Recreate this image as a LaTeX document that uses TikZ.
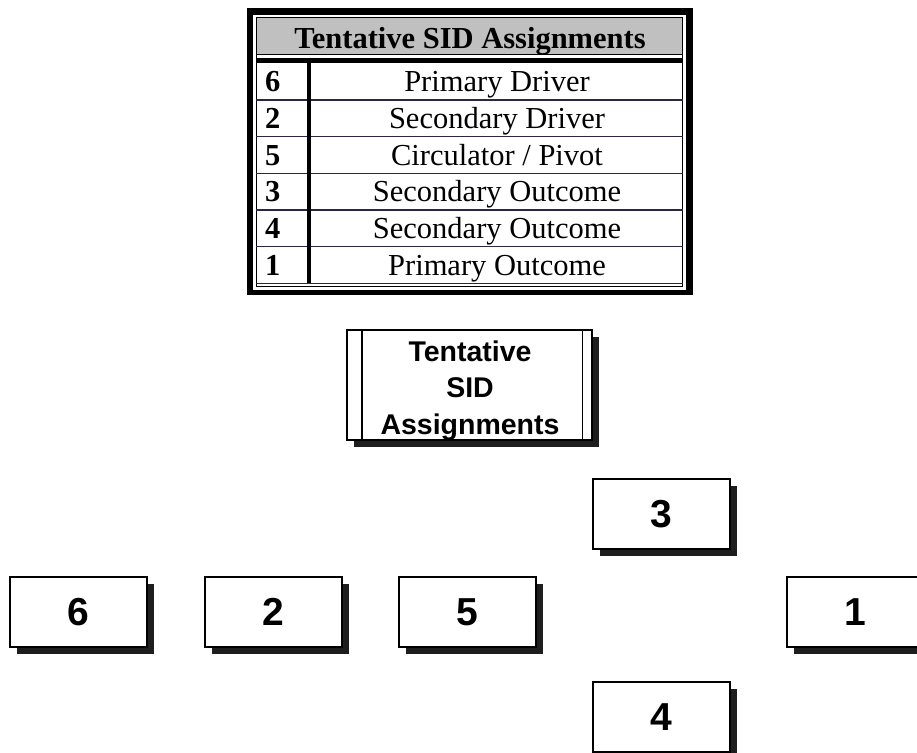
\documentclass[tikz,border=0pt]{standalone}
\usepackage{fontspec}
\setmainfont{Liberation Serif}
\setsansfont{Liberation Sans}
\usetikzlibrary{shadows}

\definecolor{rowline}{RGB}{40,40,70}
\definecolor{headgray}{RGB}{192,192,192}
\definecolor{shadowcol}{RGB}{30,30,30}

\tikzset{
  numbox/.style={draw=black, line width=1.2pt, fill=white,
    minimum width=137pt, minimum height=70pt, inner sep=0pt,
    font=\sffamily\bfseries\fontsize{39}{42}\selectfont,
    drop shadow={shadow xshift=6.5pt, shadow yshift=-6.5pt,
      fill=shadowcol, opacity=1}},
  titlebox/.style={draw=black, line width=1.2pt, fill=white,
    minimum width=245pt, minimum height=110pt, inner sep=0pt,
    drop shadow={shadow xshift=7pt, shadow yshift=-7pt,
      fill=shadowcol, opacity=1}},
  titletext/.style={align=center, inner sep=0pt,
    font=\sffamily\bfseries\fontsize{28.5}{36.5}\selectfont},
  rowtext/.style={anchor=base, inner sep=0pt,
    font=\rmfamily\fontsize{30.5}{34}\selectfont},
  rownum/.style={anchor=base west, inner sep=0pt,
    font=\rmfamily\bfseries\fontsize{30.5}{34}\selectfont},
  headtext/.style={anchor=base, inner sep=0pt,
    font=\rmfamily\bfseries\fontsize{30.5}{34}\selectfont},
  sep/.style={draw=rowline, line width=1.3pt}
}

\begin{document}
\begin{tikzpicture}[x=1pt, y=-1pt]
  \useasboundingbox (0,0) rectangle (917,752);
  \fill[white] (0,0) rectangle (917,752);

  % ---- assignment table ----
  \fill[black] (247,8) rectangle (693,295);
  \fill[white] (253,15.5) rectangle (686,289.5);
  \fill[headgray] (256,17.5) rectangle (682.5,55);
  \draw[black, line width=1pt] (256,17.5) rectangle (682.5,286.8);
  \draw[black, line width=1pt] (256,55) -- (682.5,55);
  \fill[black] (256,58) rectangle (682.5,63.3);
  \node[headtext] (thead) at (470,48.3) {Tentative SID Assignments};

  % row separators
  \foreach \yy in {100,136.7,173.3,210,246.7,283.3}
    \draw[sep] (256,\yy) -- (682.5,\yy);
  % number column separator
  \fill[black] (306.5,63.3) rectangle (311,283.3);

  % rows: number and role
  \node[rownum] (n6) at (265,91.7)  {6};
  \node[rownum] (n2) at (265,128.4) {2};
  \node[rownum] (n5) at (265,165.0) {5};
  \node[rownum] (n3) at (265,201.7) {3};
  \node[rownum] (n4) at (265,238.4) {4};
  \node[rownum] (n1) at (265,275.0) {1};
  \node[rowtext] (r6) at (497,91.7)  {Primary Driver};
  \node[rowtext] (r2) at (497,128.4) {Secondary Driver};
  \node[rowtext] (r5) at (497,165.0) {Circulator / Pivot};
  \node[rowtext] (r3) at (497,201.7) {Secondary Outcome};
  \node[rowtext] (r4) at (497,238.4) {Secondary Outcome};
  \node[rowtext] (r1) at (497,275.0) {Primary Outcome};

  % ---- title box ----
  \node[titlebox] (title) at (469.5,385) {};
  \draw[black, line width=1.2pt]
    ([xshift=15.5pt]title.north west) -- ([xshift=15.5pt]title.south west);
  \draw[black, line width=1.2pt]
    ([xshift=-10pt]title.north east) -- ([xshift=-10pt]title.south east);
  \node[titletext] (ttext) at (470,390.5) {Tentative\\SID\\Assignments};

  % ---- SID boxes ----
  \node[numbox] (b6) at (78.5,612)  {6};
  \node[numbox] (b2) at (273.5,612) {2};
  \node[numbox] (b5) at (467.5,612) {5};
  \node[numbox] (b3) at (661.5,514) {3};
  \node[numbox] (b4) at (661.5,717) {4};
  \node[numbox] (b1) at (855.5,612) {1};
\end{tikzpicture}
\end{document}
